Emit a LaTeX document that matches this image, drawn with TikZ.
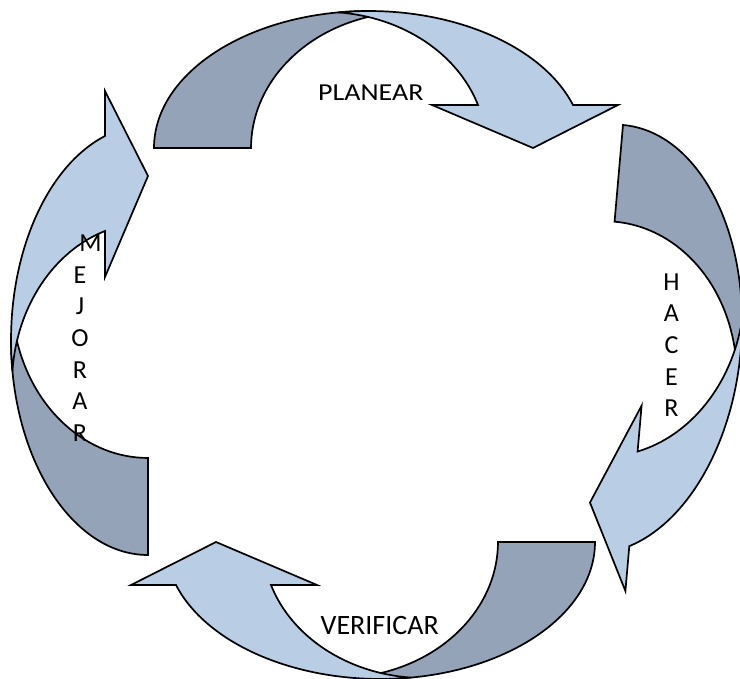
\documentclass[tikz,border=0pt]{standalone}
\usepackage{fontspec}
\setmainfont{Carlito}
\usepackage{graphicx}
\definecolor{bandlight}{RGB}{185,205,229}
\definecolor{banddark}{RGB}{149,163,184}
\tikzset{
  darkpart/.style={fill=banddark, draw=black, line width=1.7pt},
  lightpart/.style={fill=bandlight, draw=black, line width=1.7pt},
  word/.style={inner sep=0pt, font={\fontsize{28}{33}\selectfont}},
  column/.style={inner sep=0pt, align=center, anchor=north, font={\fontsize{26}{31.7}\selectfont}},
  cycle arrow/.pic={
    \path[darkpart] (0,0) arc[start angle=180, end angle=270, x radius=215, y radius=137]
       -- (214,-131) arc[start angle=254.4, end angle=180, x radius=160, y radius=136] -- cycle;
    \path[lightpart] (184.6,-135.6) arc[start angle=261.9, end angle=341.7, x radius=215, y radius=137]
       -- (464,-43) -- (379,0) -- (278,-43) -- (324,-43)
       arc[start angle=341.6, end angle=275, x radius=161.8, y radius=136] -- cycle;
  }
}
\begin{document}
\begin{tikzpicture}[x=1pt, y=-1pt]
  \useasboundingbox (0,0) rectangle (740,679);
  \fill[white] (0,0) rectangle (740,679);
  \pic (planarrow) at (154,148) {cycle arrow};
  \pic[rotate=-95] (hacerarrow) at (623,125) {cycle arrow};
  \pic[rotate=180] (verifarrow) at (595,542) {cycle arrow};
  \pic[rotate=90] (mejorarrow) at (148,555) {cycle arrow};
  \node[word, anchor=base] (planear) at (370.8,100.7) {\scalebox{1}[0.87]{PLANEAR}};
  \node[word, anchor=base] (verificar) at (379.7,634) {VERIFICAR};
  \node[column] (hacer) at (671.5,273.3) {H\\A\\C\\E\\R};
  \node[column] (mejorar) at (80,234.5) {\hspace*{21pt}M\\E\\J\\O\\R\\A\\R};
\end{tikzpicture}
\end{document}
